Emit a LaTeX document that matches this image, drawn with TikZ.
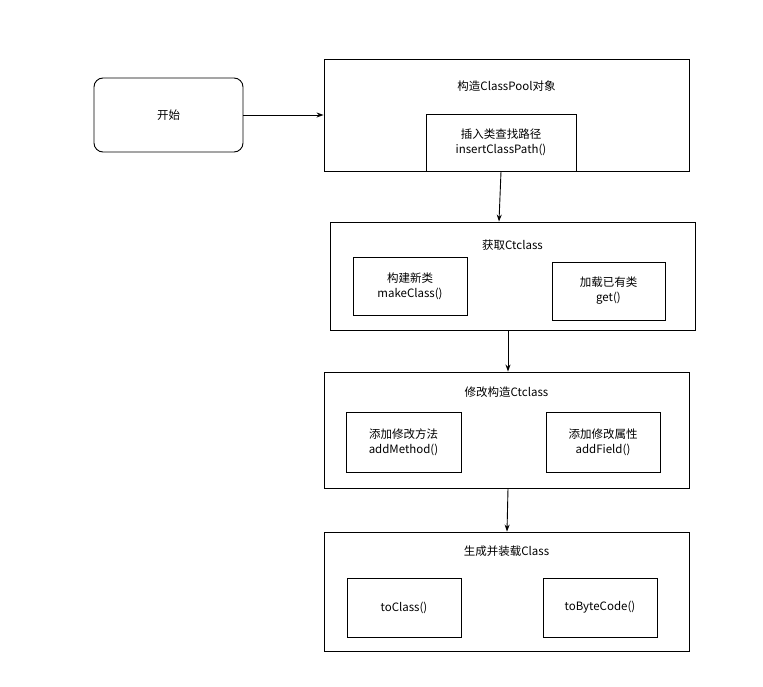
\documentclass[tikz,border=0pt]{standalone}
\usepackage{fontspec}
\setmainfont{Noto Sans CJK SC}
\usetikzlibrary{arrows.meta}
\begin{document}
\begin{tikzpicture}[x=1pt,y=-1pt,
  box/.style={draw,line width=0.9pt,inner sep=0pt},
  lbl/.style={font=\fontsize{11.5}{15}\selectfont,align=center},
  arr/.style={-{Stealth[length=7pt,width=5pt]},line width=0.9pt}]
\useasboundingbox (0,0) rectangle (763,687);
% start
\node[box,rounded corners=9pt,minimum width=149pt,minimum height=74pt,lbl] (s) at (168.5,115) {开始};
% box1
\node[box,minimum width=365pt,minimum height=112pt] (b1) at (506.5,115) {};
\node[lbl] (t1) at (506.5,86) {构造ClassPool对象};
\node[box,minimum width=150pt,minimum height=57pt,lbl] (i1) at (501,142.5) {插入类查找路径\\insertClassPath()};
% box2
\node[box,minimum width=365pt,minimum height=108pt] (b2) at (512.5,276) {};
\node[lbl] (t2) at (512.5,245) {获取Ctclass};
\node[box,minimum width=114pt,minimum height=58pt,lbl] (i2) at (410,286) {构建新类\\makeClass()};
\node[box,minimum width=113pt,minimum height=58pt,lbl] (i3) at (608.5,291) {加载已有类\\get()};
% box3
\node[box,minimum width=365pt,minimum height=116pt] (b3) at (506.5,430) {};
\node[lbl] (t3) at (506.5,392) {修改构造Ctclass};
\node[box,minimum width=115pt,minimum height=60pt,lbl] (i4) at (403.5,442) {添加修改方法\\addMethod()};
\node[box,minimum width=114pt,minimum height=60pt,lbl] (i5) at (603,442) {添加修改属性\\addField()};
% box4
\node[box,minimum width=365pt,minimum height=119pt] (b4) at (506.5,591.5) {};
\node[lbl] (t4) at (506.5,551) {生成并装载Class};
\node[box,minimum width=114pt,minimum height=59pt,lbl] (i6) at (404,607.5) {toClass()};
\node[box,minimum width=114pt,minimum height=59pt,lbl] (i7) at (600,607.5) {toByteCode()};
% arrows
\draw[arr] (s.east) -- (b1.west);
\draw[arr] (i1.south) -- (b2.north -| 499,0);
\draw[arr] (b2.south -| 508,0) -- (b3.north -| 508,0);
\draw[arr] (b3.south -| 508,0) -- (b4.north -| 507,0);
\end{tikzpicture}
\end{document}
